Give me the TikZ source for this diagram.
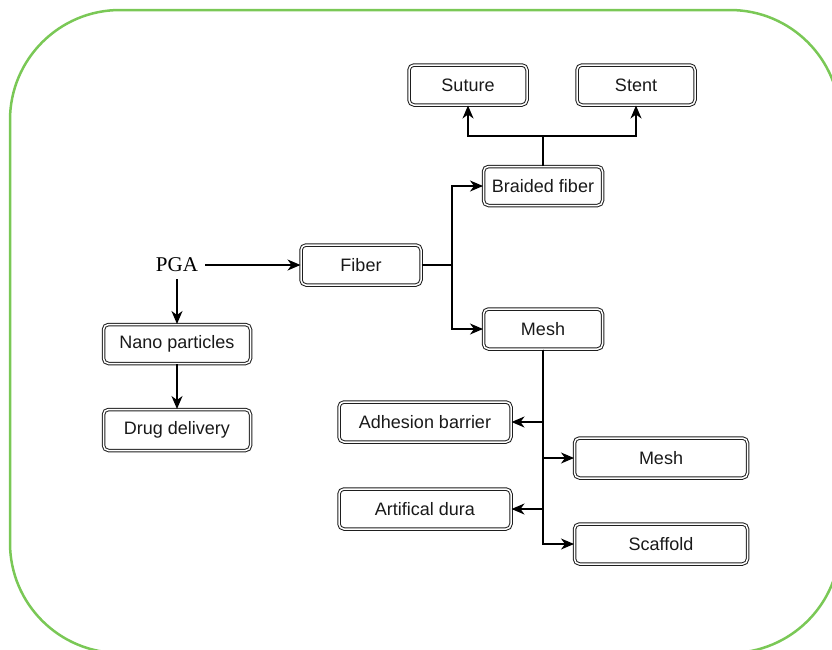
\documentclass[tikz,border=0pt]{standalone}
\usepackage{fontspec}
\setmainfont{Liberation Sans}
\newfontfamily\pgaserif{Liberation Serif}
\usetikzlibrary{arrows.meta}
\definecolor{framegreen}{RGB}{122,200,86}
\definecolor{boxline}{RGB}{30,30,30}
\tikzset{
  box/.style={draw=boxline, double=white, double distance=1.5pt, line width=1pt,
    rounded corners=5pt, inner sep=0pt, font=\fontsize{18}{21}\selectfont,
    text=black!90, align=center},
  arr/.style={line width=1.3pt, -{Stealth[length=13pt,width=11pt,inset=4pt]}},
  ln/.style={line width=1.3pt}
}
\begin{document}
\begin{tikzpicture}[x=1pt,y=-1pt]
\useasboundingbox (0,0) rectangle (832,649);
\begin{scope}
\clip (0,0) rectangle (832,649);
\draw[framegreen, line width=2.5pt, rounded corners=110pt] (10,10) rectangle (840,653);
\end{scope}

\node[box, minimum width=118pt, minimum height=40pt] (suture) at (468,85) {Suture};
\node[box, minimum width=118pt, minimum height=40pt] (stent) at (636,85) {Stent};
\node[box, minimum width=119pt, minimum height=39pt] (braided) at (543,186) {Braided fiber};
\node[box, minimum width=120pt, minimum height=40pt] (fiber) at (361,265) {Fiber};
\node[inner sep=7pt, font=\pgaserif\fontsize{21}{24}\selectfont] (pga) at (177,265) {PGA};
\node[box, minimum width=147pt, minimum height=39pt] (nano) at (177,344) {Nano particles};
\node[box, minimum width=147pt, minimum height=41pt] (drug) at (177,430) {Drug delivery};
\node[box, minimum width=119pt, minimum height=40pt] (mesh) at (543,329) {Mesh};
\node[box, minimum width=172pt, minimum height=40pt] (adhesion) at (425,422) {Adhesion barrier};
\node[box, minimum width=173pt, minimum height=40pt] (mesh2) at (661,458) {Mesh};
\node[box, minimum width=172pt, minimum height=40pt] (dura) at (425,509) {Artifical dura};
\node[box, minimum width=173pt, minimum height=40pt] (scaffold) at (661,544) {Scaffold};

\coordinate (j1) at (452,265);
\coordinate (j2) at (543,136);

\draw[arr] (pga) -- (fiber.west);
\draw[arr] (pga) -- (nano);
\draw[arr] (nano) -- (drug);
\draw[ln] (fiber.east) -- (j1);
\draw[arr] (j1) |- (braided.west);
\draw[arr] (j1) |- (mesh.west);
\draw[ln] (braided.north) -- (j2);
\draw[arr] (j2) -| (suture.south);
\draw[arr] (j2) -| (stent.south);
\draw[arr] (mesh.south) |- (adhesion.east);
\draw[arr] (mesh.south) |- (mesh2.west);
\draw[arr] (mesh.south) |- (dura.east);
\draw[arr] (mesh.south) |- (scaffold.west);
\end{tikzpicture}
\end{document}
